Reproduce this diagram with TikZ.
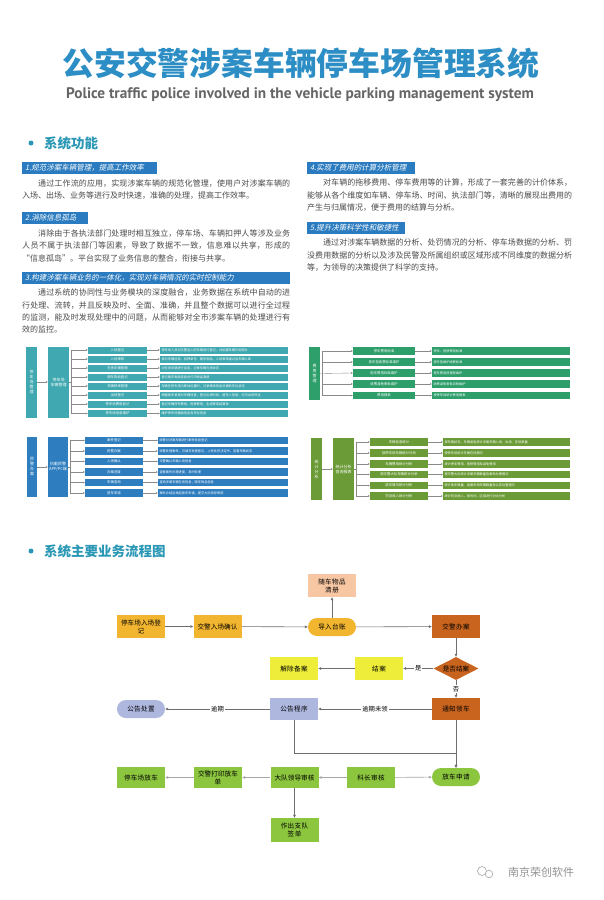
\documentclass[tikz,border=0pt]{standalone}
\usepackage{fontspec}
\setmainfont{Noto Sans CJK SC}
\newfontfamily\cjkslant{Noto Sans CJK SC}[FakeSlant=0.2]
\newfontfamily\subtitlefont{PT Sans}
\usetikzlibrary{arrows.meta}
\usetikzlibrary{shapes.geometric}
\usetikzlibrary{positioning}
\XeTeXlinebreaklocale "zh"
\XeTeXlinebreakskip=0pt plus 0.5pt
\definecolor{titleblue}{HTML}{2C8EC4}
\definecolor{subgray}{HTML}{666666}
\definecolor{secblue}{HTML}{2A98B5}
\definecolor{barblue}{HTML}{2A7BBF}
\definecolor{paragray}{HTML}{4A4A4A}
\definecolor{treeteal}{HTML}{3FA8B0}
\definecolor{treeblue}{HTML}{2E7EBF}
\definecolor{treegreen}{HTML}{2E9E6B}
\definecolor{treeolive}{HTML}{6B9B37}
\definecolor{treeline}{HTML}{8A8A8A}
\definecolor{amberbox}{HTML}{F2B530}
\definecolor{peachbox}{HTML}{F7C6A3}
\definecolor{rustbox}{HTML}{C8641E}
\definecolor{lemonbox}{HTML}{EDED3A}
\definecolor{lilacbox}{HTML}{AEB8DF}
\definecolor{limebox}{HTML}{8CC63F}
\definecolor{flowgray}{HTML}{6E6E6E}
\definecolor{flowlight}{HTML}{A6A6A6}
\tikzset{
  bar/.style={anchor=west,fill=barblue,text=white,font=\cjkslant\fontsize{7.5}{8}\selectfont,minimum height=12pt,inner xsep=3pt,inner ysep=0pt,align=left},
  para/.style={anchor=north west,inner sep=0pt,text width=#1,align=justify,text=paragray,font=\fontsize{8}{12.3}\selectfont},
  secdot/.style={circle,fill=secblue,inner sep=0pt,minimum size=5pt},
  sectitle/.style={anchor=west,inner sep=0pt,text=secblue,font=\bfseries\fontsize{13.5}{14}\selectfont},
  troot/.style={fill=#1,text=white,inner sep=0pt,align=center,font=\fontsize{4}{5}\selectfont},
  titem/.style={fill=#1,text=white,inner sep=0pt,minimum height=7pt,font=\fontsize{3.4}{4}\selectfont},
  tdesc/.style={fill=#1,text=white,inner xsep=1.5pt,inner ysep=0pt,minimum height=7pt,align=left,font=\fontsize{3.2}{4}\selectfont},
  tline/.style={draw=treeline,line width=0.35pt},
  tarrow/.style={draw=treeline,line width=0.35pt,-{Triangle[length=1.8pt,width=1.6pt]}},
  fbox/.style={fill=#1,inner sep=1pt,align=center,text width=44pt,minimum width=48pt,minimum height=23pt,font=\fontsize{6.6}{8}\selectfont},
  fround/.style={fbox=#1,rounded corners=9pt,minimum height=18pt},
  fdiamond/.style={diamond,fill=#1,inner sep=0pt,aspect=1.95,minimum width=45pt,minimum height=23pt,font=\fontsize{6.6}{8}\selectfont},
  flow/.style={draw=flowgray,line width=0.6pt,-{Triangle[length=3pt,width=2.6pt]}},
  flowlt/.style={flow,draw=flowlight},
  flowlabel/.style={midway,fill=white,inner sep=1pt,font=\fontsize{6.3}{7}\selectfont}
}

\begin{document}
\begin{tikzpicture}[x=1pt,y=-1pt]
\useasboundingbox (0,0) rectangle (603,900);
\fill[white] (0,0) rectangle (603,900);
\draw (301,63) node (title) [text=titleblue,font=\bfseries\fontsize{31.8}{33}\selectfont] {公安交警涉案车辆停车场管理系统};
\draw (300,95) node (subtitle) [text=subgray,font=\subtitlefont\bfseries\fontsize{15.3}{16}\selectfont] {Police traffic police involved in the vehicle parking management system};

\draw (31,143) node (dot1) [secdot] {};
\draw (44,143) node (sec1) [sectitle] {系统功能};

\draw (22,168) node (bar1) [bar,text width=129pt] {1.规范涉案车辆管理，提高工作效率};
\draw (22,179.5) node (para1) [para=268pt] {\hspace*{2em}通过工作流的应用，实现涉案车辆的规范化管理，使用户对涉案车辆的入场、出场、业务等进行及时快速，准确的处理，提高工作效率。};
\draw (22,218) node (bar2) [bar,text width=60pt] {2.消除信息孤岛};
\draw (22,229.5) node (para2) [para=268pt] {\hspace*{2em}消除由于各执法部门处理时相互独立，停车场、车辆扣押人等涉及业务人员不属于执法部门等因素，导致了数据不一致，信息难以共享，形成的“信息孤岛”。平台实现了业务信息的整合，衔接与共享。};
\draw (22,277.5) node (bar3) [bar,text width=262pt] {3.构建涉案车辆业务的一体化，实现对车辆情况的实时控制能力};
\draw (22,289) node (para3) [para=268pt] {\hspace*{2em}通过系统的协同性与业务模块的深度融合，业务数据在系统中自动的进行处理、流转，并且反映及时、全面、准确，并且整个数据可以进行全过程的监测，能及时发现处理中的问题，从而能够对全市涉案车辆的处理进行有效的监控。};

\draw (307,168) node (bar4) [bar,text width=102pt] {4.实现了费用的计算分析管理};
\draw (307,179) node (para4) [para=265pt] {\hspace*{2em}对车辆的拖移费用、停车费用等的计算，形成了一套完善的计价体系，能够从各个维度如车辆、停车场、时间、执法部门等，清晰的展现出费用的产生与归属情况，便于费用的结算与分析。};
\draw (307,227.5) node (bar5) [bar,text width=92pt] {5.提升决策科学性和敏捷性};
\draw (307,239) node (para5) [para=265pt] {\hspace*{2em}通过对涉案车辆数据的分析、处罚情况的分析、停车场数据的分析、罚没费用数据的分析以及涉及民警及所属组织或区域形成不同维度的数据分析等，为领导的决策提供了科学的支持。};

\draw (31.5,382) node (t1r) [troot=treeteal,minimum width=11pt,minimum height=71pt] {停\\车\\场\\管\\理};
\draw (58.5,382) node (t1s) [troot=treeteal,minimum width=21pt,minimum height=71pt] {停车场\\车辆管理};
\draw[tarrow] (t1r) -- (t1s);
\draw (117.5,350) node (t1i1) [titem=treeteal,minimum width=59pt] {入场登记};
\draw (117.5,359) node (t1i2) [titem=treeteal,minimum width=59pt] {入场审核};
\draw (117.5,368) node (t1i3) [titem=treeteal,minimum width=59pt] {在场车辆管理};
\draw (117.5,377) node (t1i4) [titem=treeteal,minimum width=59pt] {随车物品登记};
\draw (117.5,386) node (t1i5) [titem=treeteal,minimum width=59pt] {车辆移库管理};
\draw (117.5,395) node (t1i6) [titem=treeteal,minimum width=59pt] {出场登记};
\draw (117.5,404) node (t1i7) [titem=treeteal,minimum width=59pt] {停车场费用登记};
\draw (117.5,413.5) node (t1i8) [titem=treeteal,minimum width=59pt] {停车场信息维护};
\draw (224,350) node (t1d1) [tdesc=treeteal,text width=125pt] {停车场人员对交警送入的车辆进行登记，并拍摄车辆外观照片};
\draw (224,359) node (t1d2) [tdesc=treeteal,text width=125pt] {核对车辆信息、扣押单号、随车物品，入场审核通过后车辆入库};
\draw (224,368) node (t1d3) [tdesc=treeteal,text width=125pt] {对在场车辆进行巡查，记录车辆在场状态};
\draw (224,377) node (t1d4) [tdesc=treeteal,text width=125pt] {登记随车物品信息并打印物品清册};
\draw (224,386) node (t1d5) [tdesc=treeteal,text width=125pt] {车辆在停车场内移动位置时，记录移库信息并更新车位状态};
\draw (224,395) node (t1d6) [tdesc=treeteal,text width=125pt] {根据放车单核对车辆信息，登记出场时间、提车人信息，打印出场凭证};
\draw (224,404) node (t1d7) [tdesc=treeteal,text width=125pt] {登记车辆停车费用、拖移费用，生成费用结算单};
\draw (224,413.5) node (t1d8) [tdesc=treeteal,text width=125pt] {维护停车场基础信息及车位信息};
\draw[tline] (t1s.east) -- ++(2,0);
\draw[tarrow] (t1s.east) ++(2,0) |- (t1i1.west);
\draw[tarrow] (t1s.east) ++(2,0) |- (t1i2.west);
\draw[tarrow] (t1s.east) ++(2,0) |- (t1i3.west);
\draw[tarrow] (t1s.east) ++(2,0) |- (t1i4.west);
\draw[tarrow] (t1s.east) ++(2,0) |- (t1i5.west);
\draw[tarrow] (t1s.east) ++(2,0) |- (t1i6.west);
\draw[tarrow] (t1s.east) ++(2,0) |- (t1i7.west);
\draw[tarrow] (t1s.east) ++(2,0) |- (t1i8.west);
\draw[tarrow] (t1i1) -- (t1d1);
\draw[tarrow] (t1i2) -- (t1d2);
\draw[tarrow] (t1i3) -- (t1d3);
\draw[tarrow] (t1i4) -- (t1d4);
\draw[tarrow] (t1i5) -- (t1d5);
\draw[tarrow] (t1i6) -- (t1d6);
\draw[tarrow] (t1i7) -- (t1d7);
\draw[tarrow] (t1i8) -- (t1d8);

\draw (32,467) node (t2r) [troot=treeblue,minimum width=10pt,minimum height=60pt] {民\\警\\办\\案};
\draw (58,467) node (t2s) [troot=treeblue,minimum width=20pt,minimum height=60pt] {执勤民警\\APP/PC端};
\draw[tarrow] (t2r) -- (t2s);
\draw (114,440.5) node (t2i1) [titem=treeblue,minimum width=58pt,minimum height=7.5pt] {案件登记};
\draw (114,451) node (t2i2) [titem=treeblue,minimum width=58pt,minimum height=7.5pt] {民警办案};
\draw (114,461.5) node (t2i3) [titem=treeblue,minimum width=58pt,minimum height=7.5pt] {入场确认};
\draw (114,472) node (t2i4) [titem=treeblue,minimum width=58pt,minimum height=7.5pt] {办案进度};
\draw (114,482.5) node (t2i5) [titem=treeblue,minimum width=58pt,minimum height=7.5pt] {车辆查询};
\draw (114,493) node (t2i6) [titem=treeblue,minimum width=58pt,minimum height=7.5pt] {放车申请};
\draw (223,440.5) node (t2d1) [tdesc=treeblue,text width=127pt,minimum height=7.5pt] {民警对涉案车辆进行案件信息登记};
\draw (223,451) node (t2d2) [tdesc=treeblue,text width=127pt,minimum height=7.5pt] {民警处理案件，可填写处理意见，上传处罚决定书，查看车辆状态};
\draw (223,461.5) node (t2d3) [tdesc=treeblue,text width=127pt,minimum height=7.5pt] {交警确认车辆入场信息};
\draw (223,472) node (t2d4) [tdesc=treeblue,text width=127pt,minimum height=7.5pt] {查看案件办理进度，及时处理};
\draw (223,482.5) node (t2d5) [tdesc=treeblue,text width=127pt,minimum height=7.5pt] {查询涉案车辆在场信息，随车物品信息};
\draw (223,493) node (t2d6) [tdesc=treeblue,text width=127pt,minimum height=7.5pt] {案件办结后发起放车申请，提交大队领导审核};
\draw[tline] (t2s.east) -- ++(2,0);
\draw[tarrow] (t2s.east) ++(2,0) |- (t2i1.west);
\draw[tarrow] (t2s.east) ++(2,0) |- (t2i2.west);
\draw[tarrow] (t2s.east) ++(2,0) |- (t2i3.west);
\draw[tarrow] (t2s.east) ++(2,0) |- (t2i4.west);
\draw[tarrow] (t2s.east) ++(2,0) |- (t2i5.west);
\draw[tarrow] (t2s.east) ++(2,0) |- (t2i6.west);
\draw[tarrow] (t2i1) -- (t2d1);
\draw[tarrow] (t2i2) -- (t2d2);
\draw[tarrow] (t2i3) -- (t2d3);
\draw[tarrow] (t2i4) -- (t2d4);
\draw[tarrow] (t2i5) -- (t2d5);
\draw[tarrow] (t2i6) -- (t2d6);

\draw (314.5,373.5) node (t3r) [troot=treegreen,minimum width=11pt,minimum height=53pt] {费\\用\\管\\理};
\draw (384,351) node (t3i1) [titem=treegreen,minimum width=62pt,minimum height=7.5pt] {停车费用标准};
\draw (384,362) node (t3i2) [titem=treegreen,minimum width=62pt,minimum height=7.5pt] {按车型收费标准维护};
\draw (384,373) node (t3i3) [titem=treegreen,minimum width=62pt,minimum height=7.5pt] {拖车费用标准维护};
\draw (384,384) node (t3i4) [titem=treegreen,minimum width=62pt,minimum height=7.5pt] {收费减免审批维护};
\draw (384,395.5) node (t3i5) [titem=treegreen,minimum width=62pt,minimum height=7.5pt] {费用报表};
\draw (501,351) node (t3d1) [tdesc=treegreen,text width=135pt,minimum height=7.5pt] {停车、拖移费用标准};
\draw (501,362) node (t3d2) [tdesc=treegreen,text width=135pt,minimum height=7.5pt] {按车型维护收费标准};
\draw (501,373) node (t3d3) [tdesc=treegreen,text width=135pt,minimum height=7.5pt] {拖车费用按里程维护};
\draw (501,384) node (t3d4) [tdesc=treegreen,text width=135pt,minimum height=7.5pt] {收费减免审批流程维护};
\draw (501,395.5) node (t3d5) [tdesc=treegreen,text width=135pt,minimum height=7.5pt] {按停车场统计费用报表};
\draw[tarrow] (t3r.east) ++(2,0) |- (t3i1.west);
\draw[tarrow] (t3r.east) ++(2,0) |- (t3i2.west);
\draw[tarrow] (t3r.east) -- (t3i3.west);
\draw[tarrow] (t3r.east) ++(2,0) |- (t3i4.west);
\draw[tarrow] (t3r.east) ++(2,0) |- (t3i5.west);
\draw[tarrow] (t3i1) -- (t3d1);
\draw[tarrow] (t3i2) -- (t3d2);
\draw[tarrow] (t3i3) -- (t3d3);
\draw[tarrow] (t3i4) -- (t3d4);
\draw[tarrow] (t3i5) -- (t3d5);

\draw (316.5,469) node (t4r) [troot=treeolive,minimum width=11pt,minimum height=62pt] {统\\计\\分\\析};
\draw (343.5,469) node (t4s) [troot=treeolive,minimum width=21pt,minimum height=62pt] {统计分析\\查询报表};
\draw[tarrow] (t4r) -- (t4s);
\draw (399,442) node (t4i1) [titem=treeolive,minimum width=58pt,minimum height=7.5pt] {车辆信息统计};
\draw (399,453) node (t4i2) [titem=treeolive,minimum width=58pt,minimum height=7.5pt] {按停车场车辆统计分析};
\draw (399,464) node (t4i3) [titem=treeolive,minimum width=58pt,minimum height=7.5pt] {车辆费用统计分析};
\draw (399,474.5) node (t4i4) [titem=treeolive,minimum width=58pt,minimum height=7.5pt] {按交警大队车辆统计分析};
\draw (399,485.5) node (t4i5) [titem=treeolive,minimum width=58pt,minimum height=7.5pt] {放车情况统计分析};
\draw (399,496) node (t4i6) [titem=treeolive,minimum width=58pt,minimum height=7.5pt] {罚没收入统计分析};
\draw (506.5,442) node (t4d1) [tdesc=treeolive,text width=124pt,minimum height=7.5pt] {按车辆状态、车辆类型统计涉案车辆入场、出场、在场数量};
\draw (506.5,453) node (t4d2) [tdesc=treeolive,text width=124pt,minimum height=7.5pt] {按停车场统计车辆在场情况};
\draw (506.5,464) node (t4d3) [tdesc=treeolive,text width=124pt,minimum height=7.5pt] {统计停车费用、拖移费用及减免费用};
\draw (506.5,474.5) node (t4d4) [tdesc=treeolive,text width=124pt,minimum height=7.5pt] {按交警大队统计涉案车辆数量及案件办理情况};
\draw (506.5,485.5) node (t4d5) [tdesc=treeolive,text width=124pt,minimum height=7.5pt] {统计放车数量、逾期未领车辆数量及公告处置情况};
\draw (506.5,496) node (t4d6) [tdesc=treeolive,text width=124pt,minimum height=7.5pt] {统计罚没收入，按时间、区域进行对比分析};
\draw[tline] (t4s.east) -- ++(2,0);
\draw[tarrow] (t4s.east) ++(2,0) |- (t4i1.west);
\draw[tarrow] (t4s.east) ++(2,0) |- (t4i2.west);
\draw[tarrow] (t4s.east) ++(2,0) |- (t4i3.west);
\draw[tarrow] (t4s.east) ++(2,0) |- (t4i4.west);
\draw[tarrow] (t4s.east) ++(2,0) |- (t4i5.west);
\draw[tarrow] (t4s.east) ++(2,0) |- (t4i6.west);
\draw[tarrow] (t4i1) -- (t4d1);
\draw[tarrow] (t4i2) -- (t4d2);
\draw[tarrow] (t4i3) -- (t4d3);
\draw[tarrow] (t4i4) -- (t4d4);
\draw[tarrow] (t4i5) -- (t4d5);
\draw[tarrow] (t4i6) -- (t4d6);

\draw (31,551) node (dot2) [secdot] {};
\draw (44,551) node (sec2) [sectitle] {系统主要业务流程图};

\draw (141,626.5) node (enter) [fbox=amberbox] {停车场入场登\\记};
\draw (217.5,626.5) node (confirm) [fbox=amberbox] {交警入场确认};
\draw (332,627) node (ledger) [fround=amberbox] {导入台账};
\draw (332,585.5) node (goods) [fbox=peachbox] {随车物品\\清册};
\draw (456,626.5) node (handle) [fbox=rustbox] {交警办案};
\draw (456,668.5) node (closed) [fdiamond=rustbox] {是否结案};
\draw (379,668.5) node (close) [fbox=lemonbox] {结案};
\draw (294,668.5) node (release) [fbox=lemonbox] {解除备案};
\draw (456,709) node (notify) [fbox=rustbox,minimum height=22pt] {通知领车};
\draw (294,709) node (notice) [fbox=lilacbox,minimum height=22pt] {公告程序};
\draw (141,709) node (dispose) [fround=lilacbox] {公告处置};
\draw (456,777) node (apply) [fround=limebox] {放车申请};
\draw (371,777.5) node (chief) [fbox=limebox,minimum height=21pt] {科长审核};
\draw (294.5,777.5) node (leader) [fbox=limebox,minimum height=21pt] {大队领导审核};
\draw (218,777.5) node (printslip) [fbox=limebox,minimum height=21pt] {交警打印放车\\单};
\draw (141,777.5) node (out) [fbox=limebox,minimum height=21pt] {停车场放车};
\draw (294.5,830) node (sign) [fbox=limebox,minimum height=24pt] {作出支队\\签单};

\draw[flow] (enter) -- (confirm);
\draw[flow] (confirm) -- (ledger);
\draw[flow] (ledger) -- (goods);
\draw[flow] (ledger) -- (handle);
\draw[flow] (handle) -- (closed);
\draw[flow] (closed) -- node[flowlabel] {是} (close);
\draw[flow] (close) -- (release);
\draw[flow] (closed) -- node[flowlabel] {否} (notify);
\draw[flow] (notify) -- node[flowlabel] {逾期未领} (notice);
\draw[flow] (notice) -- node[flowlabel] {逾期} (dispose);
\draw[flow] (notice.south) -- ++(0,33) -| (apply.north);
\draw[flow] (notify) -- (apply);
\draw[flowlt] (chief) -- (apply);
\draw[flowlt] (chief) -- (leader);
\draw[flowlt] (leader) -- (printslip);
\draw[flowlt] (printslip) -- (out);
\draw[flow] (leader) -- (sign);

\draw[gray!70,line width=0.6pt] (482,871) circle [radius=4.5pt];
\draw[gray!70,line width=0.6pt,fill=white] (489,874) circle [radius=3.8pt];
\draw (541,872) node (brand) [text=gray!85,font=\fontsize{11}{12}\selectfont] {南京荣创软件};
\end{tikzpicture}
\end{document}
